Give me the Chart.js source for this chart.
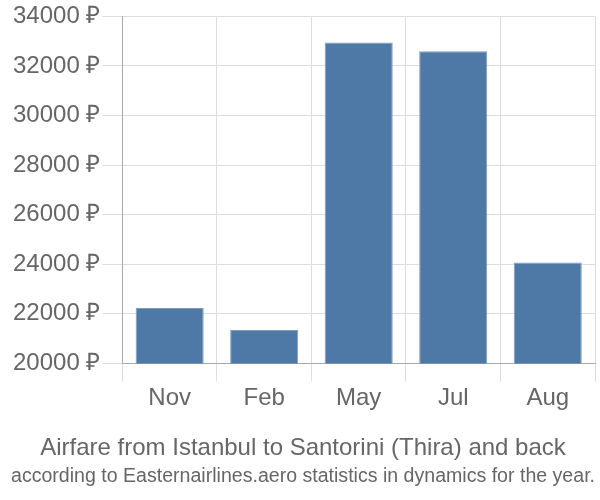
<!DOCTYPE html>
<html>
<head>
<meta charset="utf-8">
<script src="https://cdn.jsdelivr.net/npm/chart.js@4.4.0/dist/chart.umd.min.js"></script>
<style>
  html, body { margin: 0; padding: 0; background: #fff; }
  #wrap { width: 600px; height: 500px; }
</style>
</head>
<body>
<div id="wrap"><canvas id="chart"></canvas></div>
<script>
// chart values
const months = ['Nov', 'Feb', 'May', 'Jul', 'Aug'];
const prices = [22240, 21350, 32950, 32590, 24070];
const yTicks = [20000, 22000, 24000, 26000, 28000, 30000, 32000, 34000];
const titleLines = ['Airfare from Istanbul to Santorini (Thira) and back'];
const subtitleLines = ['according to Easternairlines.aero statistics in dynamics for the year.'];

const textColor = '#666';

new Chart(document.getElementById('chart'), {
  type: 'bar',
  data: {
    labels: months,
    datasets: [{
      data: prices,
      backgroundColor: '#4e79a7',
      borderColor: '#7d9cc0',
      borderWidth: 1,
      barPercentage: 0.9,
      categoryPercentage: 0.8,
    }],
  },
  options: {
    responsive: true,
    maintainAspectRatio: false,
    animation: false,
    layout: { padding: { top: 0, right: 5, left: 11, bottom: 12 } },
    plugins: {
      legend: { display: false },
      tooltip: { enabled: false },
      title: {
        display: true,
        position: 'bottom',
        text: titleLines,
        color: textColor,
        font: { family: 'Liberation Sans', size: 24, weight: 'normal' },
        padding: { top: 18, bottom: 0 },
        weight: 1000,
      },
      subtitle: {
        display: true,
        position: 'bottom',
        text: subtitleLines,
        color: textColor,
        font: { family: 'Liberation Sans', size: 20, weight: 'normal' },
        padding: { top: 1, bottom: 0 },
        weight: 2000,
      },
    },
    scales: {
      x: {
        grid: { color: '#ddd', tickLength: 18, offset: true },
        border: { color: '#aaa' },
        ticks: {
          color: textColor,
          font: { family: 'Liberation Sans', size: 24 },
          padding: 3,
        },
      },
      y: {
        min: yTicks[0],
        max: yTicks[yTicks.length - 1],
        afterBuildTicks: (axis) => { axis.ticks = yTicks.map(v => ({ value: v })); },
        grid: { color: '#ddd', tickLength: 20 },
        border: { color: '#aaa' },
        ticks: {
          color: textColor,
          font: { family: 'Liberation Sans', size: 24 },
          padding: 2,
          callback: (v) => v + ' ₽',
        },
      },
    },
  },
});
</script>
</body>
</html>
